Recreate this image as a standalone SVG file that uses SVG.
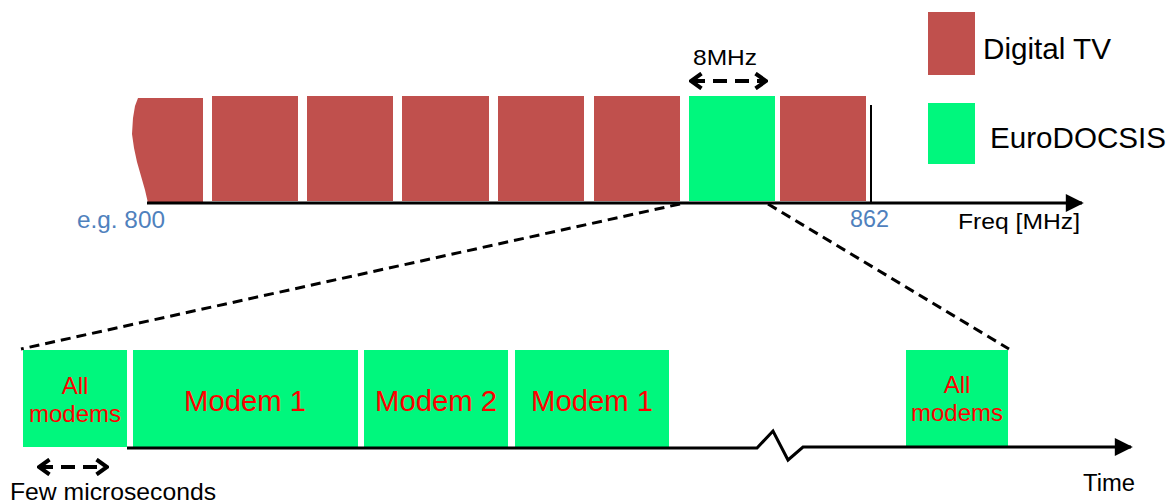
<svg xmlns="http://www.w3.org/2000/svg" width="1175" height="504" viewBox="0 0 1175 504">
  <style>
    text { font-family: "Liberation Sans", Arial, sans-serif; }
    .tv { fill: #C0504D; }
    .docsis { fill: #00F77D; }
    .axis { stroke: #000; stroke-width: 3; fill: none; }
    .dash { stroke: #000; stroke-width: 3; stroke-dasharray: 10 6; fill: none; }
    .span { stroke: #000; stroke-width: 4; stroke-dasharray: 14 8; fill: none; }
    .lbl { fill: #000; }
    .blue { fill: #4F81BD; }
    .slot { fill: #FF0000; text-anchor: middle; }
  </style>
  <defs>
    <marker id="tri-l" viewBox="0 0 10 10" refX="9" refY="5" markerWidth="22" markerHeight="18" markerUnits="userSpaceOnUse" orient="auto">
      <path d="M0,0 L10,5 L0,10 Z" fill="#000"/>
    </marker>
    <marker id="chev" viewBox="0 0 14 18" refX="12" refY="9" markerWidth="14" markerHeight="18" markerUnits="userSpaceOnUse" orient="auto-start-reverse">
      <path d="M1.5,1.5 L12,9 L1.5,16.5" fill="none" stroke="#000" stroke-width="4"/>
    </marker>
  </defs>

  <!-- legend -->
  <g id="legend-tv">
    <rect class="tv" x="928" y="12" width="47" height="63"/>
    <text class="lbl" x="983" y="59" font-size="30" textLength="128" lengthAdjust="spacingAndGlyphs">Digital TV</text>
  </g>
  <g id="legend-docsis">
    <rect class="docsis" x="928" y="103" width="47" height="61"/>
    <text class="lbl" x="990" y="148" font-size="30" textLength="176" lengthAdjust="spacingAndGlyphs">EuroDOCSIS</text>
  </g>

  <!-- frequency spectrum -->
  <g id="channel-0">
    <path class="tv" d="M138,98 L203,98 L203,203 L148,203 L145,190 L141,176 L137,162 L134,148 L132,134 L133,118 L135,106 Z"/>
  </g>
  <g id="channel-1"><rect class="tv" x="212" y="96" width="86" height="105"/></g>
  <g id="channel-2"><rect class="tv" x="307" y="96" width="86" height="105"/></g>
  <g id="channel-3"><rect class="tv" x="402" y="96" width="87" height="105"/></g>
  <g id="channel-4"><rect class="tv" x="498" y="96" width="86" height="105"/></g>
  <g id="channel-5"><rect class="tv" x="594" y="96" width="86" height="105"/></g>
  <g id="channel-docsis"><rect class="docsis" x="689" y="96" width="86" height="105"/></g>
  <g id="channel-7"><rect class="tv" x="780" y="96" width="86" height="105"/></g>

  <!-- time slots -->
  <g id="slot-all-1">
    <rect class="docsis" x="23" y="350" width="104" height="97"/>
    <text class="slot" x="75" y="394" font-size="24">All</text>
    <text class="slot" x="75" y="422" font-size="24" textLength="92" lengthAdjust="spacingAndGlyphs">modems</text>
  </g>
  <g id="slot-modem1-a">
    <rect class="docsis" x="133" y="350" width="225" height="97"/>
    <text class="slot" x="245" y="411" font-size="30" textLength="122" lengthAdjust="spacingAndGlyphs">Modem 1</text>
  </g>
  <g id="slot-modem2">
    <rect class="docsis" x="364" y="350" width="144" height="97"/>
    <text class="slot" x="436" y="411" font-size="30" textLength="122" lengthAdjust="spacingAndGlyphs">Modem 2</text>
  </g>
  <g id="slot-modem1-b">
    <rect class="docsis" x="515" y="350" width="154" height="97"/>
    <text class="slot" x="592" y="411" font-size="30" textLength="122" lengthAdjust="spacingAndGlyphs">Modem 1</text>
  </g>
  <g id="slot-all-2">
    <rect class="docsis" x="906" y="350" width="102" height="96"/>
    <text class="slot" x="957" y="393" font-size="24">All</text>
    <text class="slot" x="957" y="421" font-size="24" textLength="92" lengthAdjust="spacingAndGlyphs">modems</text>
  </g>

  <!-- axes, zoom lines and spans -->
  <g id="connectors">
    <line class="axis" x1="147" y1="203" x2="1082" y2="203" marker-end="url(#tri-l)"/>
    <line x1="871" y1="105" x2="871" y2="203" stroke="#000" stroke-width="2"/>
    <polyline class="axis" stroke-width="2.5" points="127,448 757,448 773,431 788,460 803,447 1131,447" marker-end="url(#tri-l)"/>
    <line class="dash" x1="680" y1="204" x2="21" y2="349"/>
    <line class="dash" x1="768" y1="204" x2="1009" y2="349"/>
    <line class="span" x1="691" y1="81" x2="766" y2="81" marker-start="url(#chev)" marker-end="url(#chev)"/>
    <line class="span" x1="39" y1="467" x2="107" y2="467" marker-start="url(#chev)" marker-end="url(#chev)"/>
  </g>

  <!-- axis labels -->
  <g id="labels">
    <text class="lbl" x="693" y="65" font-size="22" textLength="64" lengthAdjust="spacingAndGlyphs">8MHz</text>
    <text class="blue" x="77" y="228" font-size="23" textLength="88" lengthAdjust="spacingAndGlyphs">e.g. 800</text>
    <text class="blue" x="850" y="227" font-size="23" textLength="39" lengthAdjust="spacingAndGlyphs">862</text>
    <text class="lbl" x="958" y="229" font-size="22" textLength="122" lengthAdjust="spacingAndGlyphs">Freq [MHz]</text>
    <text class="lbl" x="1083" y="491" font-size="23" textLength="52" lengthAdjust="spacingAndGlyphs">Time</text>
    <text class="lbl" x="10" y="500" font-size="24" textLength="206" lengthAdjust="spacingAndGlyphs">Few microseconds</text>
  </g>
</svg>
